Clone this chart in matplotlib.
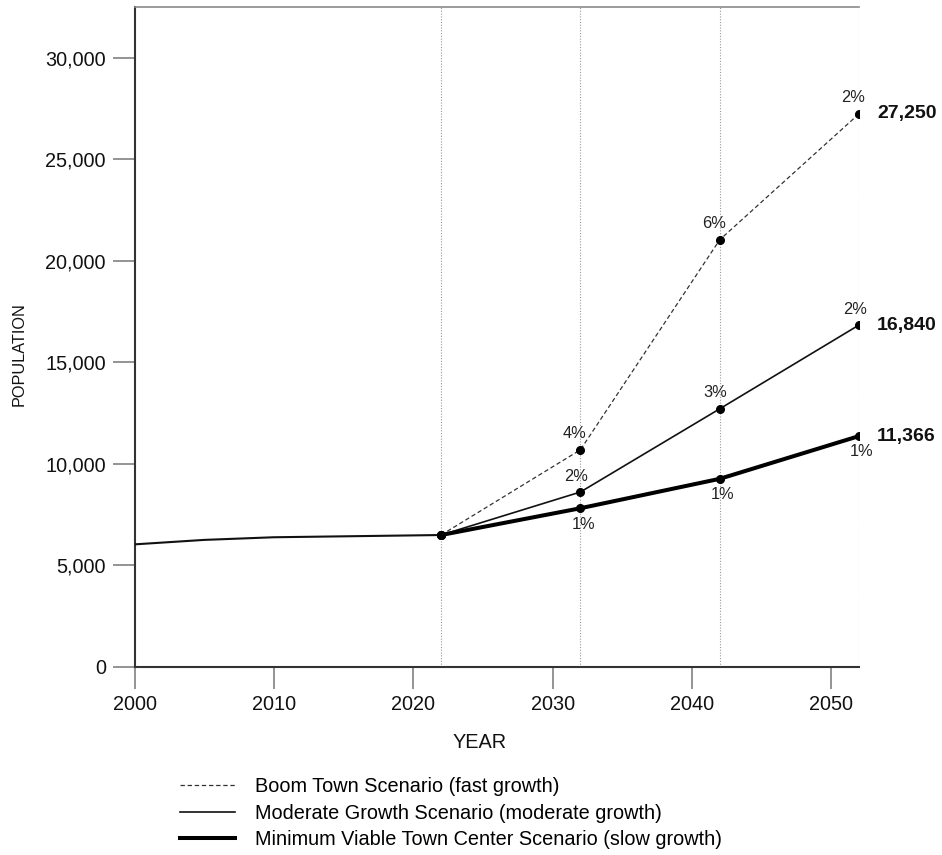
import matplotlib
matplotlib.use("Agg")
import matplotlib.pyplot as plt
from matplotlib.ticker import FuncFormatter

plt.rcParams['font.family'] = ['Liberation Sans', 'DejaVu Sans']

# Historical population
hist_years = [2000, 2005, 2010, 2022]
hist_pop = [6030, 6250, 6380, 6490]

# Projection years (start at the last observed year)
proj_years = [2022, 2032, 2042, 2052]

boom_pop = [6490, 10690, 21040, 27250]
moderate_pop = [6490, 8610, 12710, 16840]
minimum_pop = [6490, 7810, 9260, 11366]

# Decade growth-rate annotations for each projected step
boom_rates = ["4%", "6%", "2%"]
moderate_rates = ["2%", "3%", "2%"]
minimum_rates = ["1%", "1%", "1%"]

series_labels = [
    "Boom Town Scenario (fast growth)",
    "Moderate Growth Scenario (moderate growth)",
    "Minimum Viable Town Center Scenario (slow growth)",
]

x_ticks = [2000, 2010, 2020, 2030, 2040, 2050]
y_ticks = [0, 5000, 10000, 15000, 20000, 25000, 30000]

W, H = 942, 855
fig = plt.figure(figsize=(W / 100, H / 100), dpi=100)
ax = fig.add_axes([134.7 / W, 1 - 666.7 / H, (859 - 134.7) / W, (666.7 - 7.3) / H])

ax.set_xlim(2000, 2052)
ax.set_ylim(0, 32500)

# Dotted guides at each projection year
for yr in proj_years:
    ax.axvline(yr, color="#9a9a9a", lw=0.8, ls=(0, (1, 1.5)), zorder=1)

ax.plot(hist_years, hist_pop, color="#111111", lw=1.5, zorder=3)

boom_line, = ax.plot(proj_years, boom_pop, color="#333333", lw=0.9,
                     dashes=(3.5, 2.2), marker="o", ms=5.5, mfc="black",
                     mec="black", label=series_labels[0], zorder=4)
mod_line, = ax.plot(proj_years, moderate_pop, color="#111111", lw=1.2,
                    marker="o", ms=5.5, mfc="black", mec="black",
                    label=series_labels[1], zorder=5)
min_line, = ax.plot(proj_years, minimum_pop, color="#000000", lw=2.9,
                    marker="o", ms=5.5, mfc="black", mec="black",
                    label=series_labels[2], zorder=6)

pct_kw = dict(textcoords="offset points", fontsize=11.8, color="#222222",
              ha="center")
for yr, val, txt in zip(proj_years[1:], boom_pop[1:], boom_rates):
    ax.annotate(txt, (yr, val), xytext=(-4, 6), va="bottom", **pct_kw)
for yr, val, txt in zip(proj_years[1:], moderate_pop[1:], moderate_rates):
    ax.annotate(txt, (yr, val), xytext=(-3, 6), va="bottom", **pct_kw)
for yr, val, txt in zip(proj_years[1:], minimum_pop[1:], minimum_rates):
    ax.annotate(txt, (yr, val), xytext=(2, -6), va="top", **pct_kw)

# Final-year totals
for vals in (boom_pop, moderate_pop, minimum_pop):
    ax.annotate(f"{vals[-1]:,}", (proj_years[-1], vals[-1]), xytext=(13, 0),
                textcoords="offset points", fontsize=14, fontweight="bold",
                ha="left", va="center", color="#111111",
                annotation_clip=False)

ax.set_xticks(x_ticks)
ax.set_yticks(y_ticks)
ax.yaxis.set_major_formatter(FuncFormatter(lambda v, p: f"{int(v):,}"))
ax.tick_params(axis="both", direction="out", length=15.8, width=1.1,
               color="#777777", labelsize=14.3, labelcolor="#111111")
ax.tick_params(axis="x", pad=4.3)
ax.tick_params(axis="y", pad=5)

ax.spines["right"].set_visible(False)
ax.spines["top"].set_color("#8a8a8a")
ax.spines["top"].set_linewidth(1.2)
for side in ("left", "bottom"):
    ax.spines[side].set_color("#333333")
    ax.spines[side].set_linewidth(1.5)

fig.text(480 / W, 1 - 742 / H, "YEAR", fontsize=14.3, ha="center",
         va="center", color="#111111")
fig.text(19 / W, 1 - 354 / H, "POPULATION", fontsize=11.7, rotation=90,
         ha="center", va="center", color="#111111")

fig.legend(handles=[boom_line, mod_line, min_line],
           labels=series_labels, loc="upper left",
           bbox_to_anchor=(180 / W, 1 - 777 / H), frameon=False,
           fontsize=14.3, handlelength=2.77, handletextpad=1.0,
           borderpad=0, borderaxespad=0, labelspacing=0.38)

for h in fig.legends[0].legend_handles:
    h.set_marker("")

fig.savefig("out.png", dpi=100)
